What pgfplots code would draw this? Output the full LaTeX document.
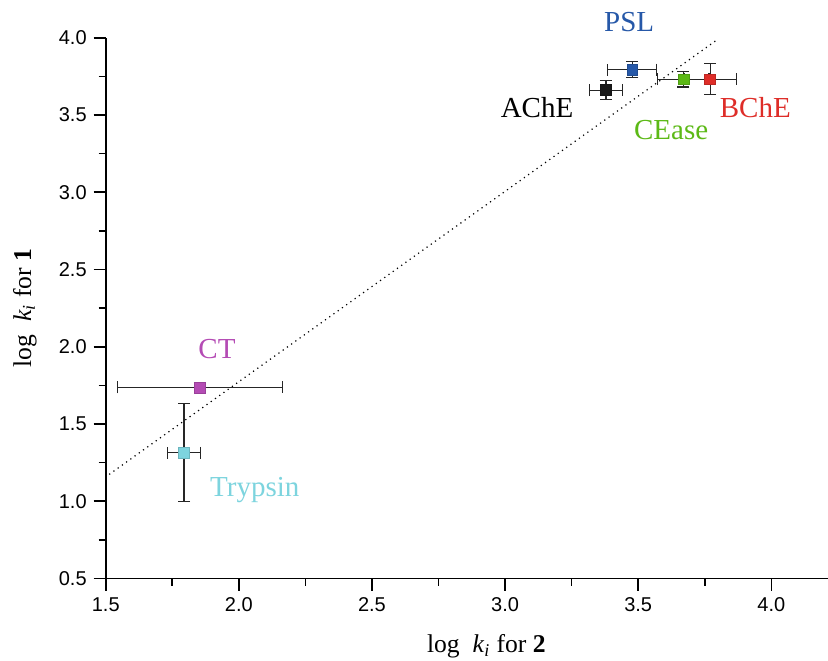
\documentclass[border=0pt]{standalone}
\usepackage{fontspec}
\setmainfont{Liberation Serif}
\newfontfamily\tickfont{Liberation Sans}
\usepackage{pgfplots}
\pgfplotsset{compat=1.18}

\definecolor{cpsl}{RGB}{38,88,168}
\definecolor{cache}{RGB}{25,25,25}
\definecolor{ccease}{RGB}{92,185,22}
\definecolor{cbche}{RGB}{222,45,40}
\definecolor{cct}{RGB}{180,75,180}
\definecolor{ctryp}{RGB}{125,212,222}

\pgfplotsset{
  pt/.style={only marks, mark=square*, mark size=2.7pt,
    mark options={fill=#1, draw=#1!85!black, line width=0.3pt},
    error bars/.cd, x dir=both, x explicit, y dir=both, y explicit,
    error bar style={black!85, line width=0.55pt},
    error mark options={rotate=90, black!85, mark size=3pt, line width=0.55pt}},
}
\tikzset{lbl/.style={font=\fontsize{14.5}{17}\selectfont, text=#1}}

\begin{document}
\begin{tikzpicture}
\begin{axis}[
  scale only axis,
  width=361pt, height=270.3pt,
  xmin=1.5, xmax=4.213, ymin=0.5, ymax=4.0,
  axis x line*=bottom, axis y line*=left,
  axis line style={-, line width=0.8pt},
  xtick={1.5,2.0,...,4.0}, ytick={0.5,1.0,...,4.0},
  minor tick num=1,
  tick align=outside,
  major tick length=6pt, minor tick length=3.5pt,
  tick style={black, line width=0.8pt},
  xticklabel style={/pgf/number format/.cd, fixed, fixed zerofill, precision=1},
  yticklabel style={/pgf/number format/.cd, fixed, fixed zerofill, precision=1},
  /pgf/number format/assume math mode=true,
  ticklabel style={font=\tickfont\fontsize{10}{12}\selectfont},
  xlabel={log\ \ \textit{k}\textsubscript{\textit{i}} for \textbf{2}},
  ylabel={log\ \ \textit{k}\textsubscript{\textit{i}} for \textbf{1}},
  label style={font=\fontsize{12.8}{15}\selectfont},
  xlabel style={at={(axis description cs:0.527,0)}, yshift=-37pt, anchor=base},
  ylabel style={at={(axis description cs:-0.1118,0.5)}, anchor=center},
  clip=false,
]
\addplot[black, dotted, line width=0.6pt] coordinates {(1.513,1.174) (3.799,3.99)};

\addplot[pt=cache] coordinates {(3.379,3.661) +- (0.063,0.061)};
\addplot[pt=cpsl] coordinates {(3.478,3.793) +- (0.092,0.052)};
\addplot[pt=ccease] coordinates {(3.670,3.731) +- (0.096,0.050)};
\addplot[pt=cbche] coordinates {(3.770,3.731) +- (0.098,0.100)};
\addplot[pt=cct] coordinates {(1.854,1.737) +- (0.310,0.030)};
\addplot[pt=ctryp] coordinates {(1.794,1.314) +- (0.063,0.317)};

\node[lbl=cpsl] at (axis cs:3.466,4.10) {PSL};
\node[lbl=black] at (axis cs:3.12,3.55) {AChE};
\node[lbl=ccease] at (axis cs:3.624,3.40) {CEase};
\node[lbl=cbche] at (axis cs:3.94,3.55) {BChE};
\node[lbl=cct] at (axis cs:1.918,1.985) {CT};
\node[lbl=ctryp] at (axis cs:2.06,1.07) {Trypsin};

\coordinate (bbl) at (axis description cs:-0.1464,-0.1511);
\coordinate (btr) at (axis description cs:1.0,1.0698);
\end{axis}
\pgfresetboundingbox
\useasboundingbox (bbl) rectangle (btr);
\end{tikzpicture}
\end{document}
